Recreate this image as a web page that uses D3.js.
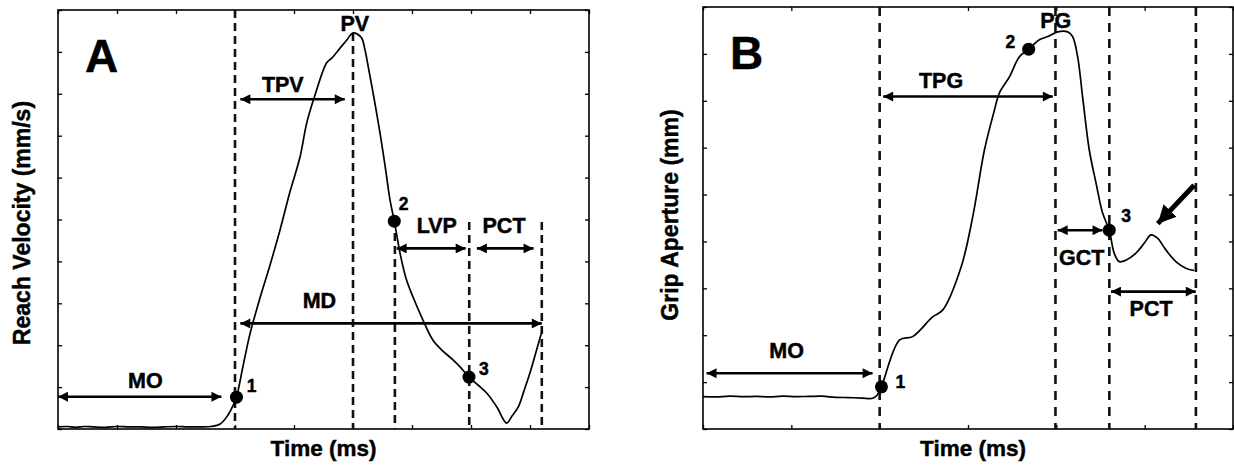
<!DOCTYPE html>
<html>
<head>
<meta charset="utf-8">
<script src="https://cdn.jsdelivr.net/npm/d3@7"></script>
<style>
  body { margin: 0; background: #fff; }
  svg text { font-family: "Liberation Sans", Arial, sans-serif; font-weight: bold; fill: #000; stroke: #000; stroke-width: 0.45; }
</style>
</head>
<body>
<svg id="fig" width="1234" height="466"></svg>
<script>
'use strict';

/* Panel A : reach velocity trace (time in ms, velocity in mm/s) */
var velTime = [0, 15, 30, 45, 60, 80, 100, 120, 140, 160, 180, 200, 220, 240, 259, 275, 288, 297, 302.5, 313.6,
  325.4, 342.4, 359.3, 376.3, 393.2, 410.2, 421.5, 435.6, 455.4, 463.9, 478, 489.3, 499.5, 506.8, 514.7, 520.3,
  525.9, 535.6, 545.8, 554.2, 562.7, 570, 579.7, 589.8, 601.7, 618.6, 635.6, 652.5, 669.5, 683, 696.6, 711.9,
  726.6, 743.6, 760.5, 769.5, 780.2, 789.8, 800, 810.2, 820.8];
var velValue = [5, 6, 4, 6, 5, 4, 6, 5, 5, 4, 5, 6, 5, 5, 6, 12, 33, 57, 76, 150,
  227, 313, 391, 475, 566, 649, 730, 797, 874, 885, 909, 928, 945, 943, 933, 905,
  864, 790, 706, 630, 547, 496, 420, 360, 315, 260, 212, 186, 165, 146, 124, 105,
  86, 53, 14, 31, 53, 91, 134, 184, 236];
var velDotTime = [302.5, 570, 696.6];
var velDotValue = [76, 496, 124];
var velDotName = ['1', '2', '3'];
var velDotLabelTime = [328, 586, 722];
var velDotLabelValue = [88, 523, 129];
var velEventTime = [300, 500, 571, 697, 820];
var velEventTop = [1000, 945, 468, 494, 494];
var velSpanName = ['MO', 'TPV', 'MD', 'LVP', 'PCT'];
var velSpanFrom = [0, 309, 309, 574, 710];
var velSpanTo = [277, 486, 820, 691, 806];
var velSpanAt = [77, 787, 252, 431, 431];
var velTextName = ['MO', 'TPV', 'PV', 'MD', 'LVP', 'PCT'];
var velTextTime = [148, 381, 503, 443, 642, 756];
var velTextValue = [98, 804, 950, 289, 468, 468];

/* Panel B : grip aperture trace (time in ms, aperture in mm) */
var gripTime = [0, 15, 30, 45, 60, 75, 90, 105, 120, 135, 150, 165, 180, 192, 197, 202, 222.6, 237.3, 259.9, 271.5,
  292.3, 305.4, 318.6, 329.9, 335.6, 346.9, 358.2, 368.7, 380.8, 390.2, 401.5, 412.8, 418.4, 424.1, 429.7, 437.3,
  444.9, 452.3, 459.9, 465.5, 471.2, 478.8, 490.1, 499.4, 507.1, 514.5, 524, 535.3, 546.6, 555.9];
var gripValue = [6.9, 6.85, 7.0, 6.9, 6.95, 6.85, 7.0, 6.9, 6.95, 7.0, 6.75, 6.7, 6.6, 6.55, 7.2, 9.0, 19.0, 19.7, 23.9, 25.4,
  34.6, 45.3, 59.5, 68.0, 71.7, 75.1, 79.4, 81.0, 83.0, 83.7, 84.7, 84.7, 83.7, 79.4, 70.9, 59.5,
  52.5, 46.1, 42.4, 37.5, 35.7, 36.0, 37.5, 39.6, 41.4, 40.7, 38.2, 35.7, 34.3, 33.8];
var gripDotTime = [202, 368.7, 459.9];
var gripDotValue = [9.0, 81.0, 42.4];
var gripDotName = ['1', '2', '3'];
var gripDotLabelTime = [223.5, 348, 479];
var gripDotLabelValue = [8.7, 81.3, 44.1];
var gripEventTime = [200, 399, 460, 558];
var gripEventTop = [90, 90, 90, 90];
var gripSpanName = ['MO', 'TPG', 'GCT', 'PCT'];
var gripSpanFrom = [4, 204, 401.5, 461.8];
var gripSpanTo = [192, 396, 452.3, 557.9];
var gripSpanAt = [11.9, 70.9, 42.4, 29.3];
var gripTextName = ['MO', 'TPG', 'PG', 'GCT', 'PCT'];
var gripTextTime = [94.6, 269.5, 399.4, 428.8, 507.3];
var gripTextValue = [15.1, 72.7, 85.5, 35.0, 24.1];
var gripPointerFrom = [556, 52.0];
var gripPointerTo = [514.8, 43.8];

var svg = d3.select('#fig');

var defs = svg.append('defs');
defs.append('marker')
  .attr('id', 'head')
  .attr('viewBox', '0 0 10 10')
  .attr('refX', 10).attr('refY', 5)
  .attr('markerUnits', 'userSpaceOnUse')
  .attr('markerWidth', 11).attr('markerHeight', 10)
  .attr('orient', 'auto-start-reverse')
  .append('path').attr('d', 'M0,0 L10,5 L0,10 Z').attr('fill', '#000');
defs.append('marker')
  .attr('id', 'bighead')
  .attr('viewBox', '0 0 10 10')
  .attr('refX', 10).attr('refY', 5)
  .attr('markerUnits', 'userSpaceOnUse')
  .attr('markerWidth', 18).attr('markerHeight', 18)
  .attr('orient', 'auto')
  .append('path').attr('d', 'M0,0 L10,5 L0,10 Z').attr('fill', '#000');

function zip(a, b) { return a.map(function (d, i) { return [d, b[i]]; }); }

function panel(o) {
  var x = d3.scaleLinear().domain(o.xDomain).range([o.left, o.right]),
      y = d3.scaleLinear().domain(o.yDomain).range([o.bottom, o.top]),
      g = svg.append('g');

  /* ticks on all four sides, pointing inwards */
  var xt = d3.range(o.xDomain[0], o.xDomain[1] + 1e-9, o.xStep),
      yt = d3.range(o.yDomain[0], o.yDomain[1] + 1e-9, o.yStep);
  [[d3.axisBottom(x), o.bottom], [d3.axisTop(x), o.top]].forEach(function (a) {
    g.append('g').attr('transform', 'translate(0,' + a[1] + ')')
      .call(a[0].tickValues(xt).tickSize(-4).tickFormat(''))
      .call(function (s) { s.select('.domain').remove(); s.selectAll('line').attr('stroke', '#000').attr('stroke-width', 1.3); });
  });
  [[d3.axisLeft(y), o.left], [d3.axisRight(y), o.right]].forEach(function (a) {
    g.append('g').attr('transform', 'translate(' + a[1] + ',0)')
      .call(a[0].tickValues(yt).tickSize(-4).tickFormat(''))
      .call(function (s) { s.select('.domain').remove(); s.selectAll('line').attr('stroke', '#000').attr('stroke-width', 1.3); });
  });

  g.append('rect')
    .attr('x', o.left).attr('y', o.top)
    .attr('width', o.right - o.left).attr('height', o.bottom - o.top)
    .attr('fill', 'none').attr('stroke', '#000').attr('stroke-width', 1.6);

  /* dashed event lines */
  g.selectAll('line.ev').data(zip(o.evTime, o.evTop)).enter().append('line')
    .attr('class', 'ev')
    .attr('x1', function (d) { return x(d[0]); }).attr('x2', function (d) { return x(d[0]); })
    .attr('y1', function (d) { return y(d[1]); }).attr('y2', o.bottom)
    .attr('stroke', '#111').attr('stroke-width', 2.6)
    .attr('stroke-dasharray', o.dash);

  /* trace */
  var line = d3.line()
    .x(function (d) { return x(d[0]); })
    .y(function (d) { return y(d[1]); })
    .curve(d3.curveCatmullRom.alpha(0.5));
  g.append('path').datum(zip(o.time, o.value))
    .attr('d', line).attr('fill', 'none')
    .attr('stroke', '#000').attr('stroke-width', 1.7);

  /* double headed interval arrows */
  g.selectAll('line.span').data(o.spanFrom).enter().append('line')
    .attr('class', 'span')
    .attr('x1', function (d) { return x(d); })
    .attr('x2', function (d, i) { return x(o.spanTo[i]); })
    .attr('y1', function (d, i) { return y(o.spanAt[i]); })
    .attr('y2', function (d, i) { return y(o.spanAt[i]); })
    .attr('stroke', '#000').attr('stroke-width', 2.6)
    .attr('marker-start', 'url(#head)').attr('marker-end', 'url(#head)');

  g.selectAll('text.span').data(o.textName).enter().append('text')
    .attr('class', 'span')
    .attr('x', function (d, i) { return x(o.textTime[i]); })
    .attr('y', function (d, i) { return y(o.textValue[i]); })
    .attr('text-anchor', 'middle').attr('font-size', 21.5)
    .text(function (d) { return d; });

  /* numbered points */
  g.selectAll('circle').data(zip(o.dotTime, o.dotValue)).enter().append('circle')
    .attr('cx', function (d) { return x(d[0]); })
    .attr('cy', function (d) { return y(d[1]); })
    .attr('r', 6.5).attr('fill', '#000');
  g.selectAll('text.num').data(o.dotName).enter().append('text')
    .attr('class', 'num')
    .attr('x', function (d, i) { return x(o.dotLabelTime[i]); })
    .attr('y', function (d, i) { return y(o.dotLabelValue[i]); })
    .attr('text-anchor', 'middle').attr('font-size', 17.5)
    .text(function (d) { return d; });

  /* panel letter and axis titles */
  g.append('text')
    .attr('x', o.left + 27).attr('y', o.top + 62)
    .attr('font-size', 46).text(o.letter);
  g.append('text')
    .attr('x', (o.left + o.right) / 2 + o.xTitleShift).attr('y', 456)
    .attr('text-anchor', 'middle').attr('font-size', 22.5).text('Time (ms)');
  g.append('text')
    .attr('transform', 'translate(' + (o.left - o.yTitleGap) + ',' + o.yTitleMid + ') rotate(-90)')
    .attr('text-anchor', 'middle').attr('font-size', 23).text(o.yTitle);

  return { x: x, y: y, g: g };
}

var A = panel({
  left: 58, right: 589, top: 10, bottom: 429,
  xDomain: [0, 900], xStep: 100, yDomain: [0, 1000], yStep: 100,
  time: velTime, value: velValue,
  evTime: velEventTime, evTop: velEventTop, dash: '8,5',
  spanFrom: velSpanFrom, spanTo: velSpanTo, spanAt: velSpanAt,
  textName: velTextName, textTime: velTextTime, textValue: velTextValue,
  dotTime: velDotTime, dotValue: velDotValue, dotName: velDotName,
  dotLabelTime: velDotLabelTime, dotLabelValue: velDotLabelValue,
  letter: 'A', xTitleShift: 0, yTitle: 'Reach Velocity (mm/s)', yTitleGap: 28, yTitleMid: 223
});

var B = panel({
  left: 703, right: 1233, top: 7, bottom: 429,
  xDomain: [0, 600], xStep: 100, yDomain: [0, 90], yStep: 10,
  time: gripTime, value: gripValue,
  evTime: gripEventTime, evTop: gripEventTop, dash: '9,7',
  spanFrom: gripSpanFrom, spanTo: gripSpanTo, spanAt: gripSpanAt,
  textName: gripTextName, textTime: gripTextTime, textValue: gripTextValue,
  dotTime: gripDotTime, dotValue: gripDotValue, dotName: gripDotName,
  dotLabelTime: gripDotLabelTime, dotLabelValue: gripDotLabelValue,
  letter: 'B', xTitleShift: 5, yTitle: 'Grip Aperture (mm)', yTitleGap: 25, yTitleMid: 215
});

/* the pointer arrow on the secondary grip peak */
B.g.append('line')
  .attr('x1', B.x(gripPointerFrom[0])).attr('y1', B.y(gripPointerFrom[1]))
  .attr('x2', B.x(gripPointerTo[0])).attr('y2', B.y(gripPointerTo[1]))
  .attr('stroke', '#000').attr('stroke-width', 5)
  .attr('marker-end', 'url(#bighead)');
</script>
</body>
</html>
